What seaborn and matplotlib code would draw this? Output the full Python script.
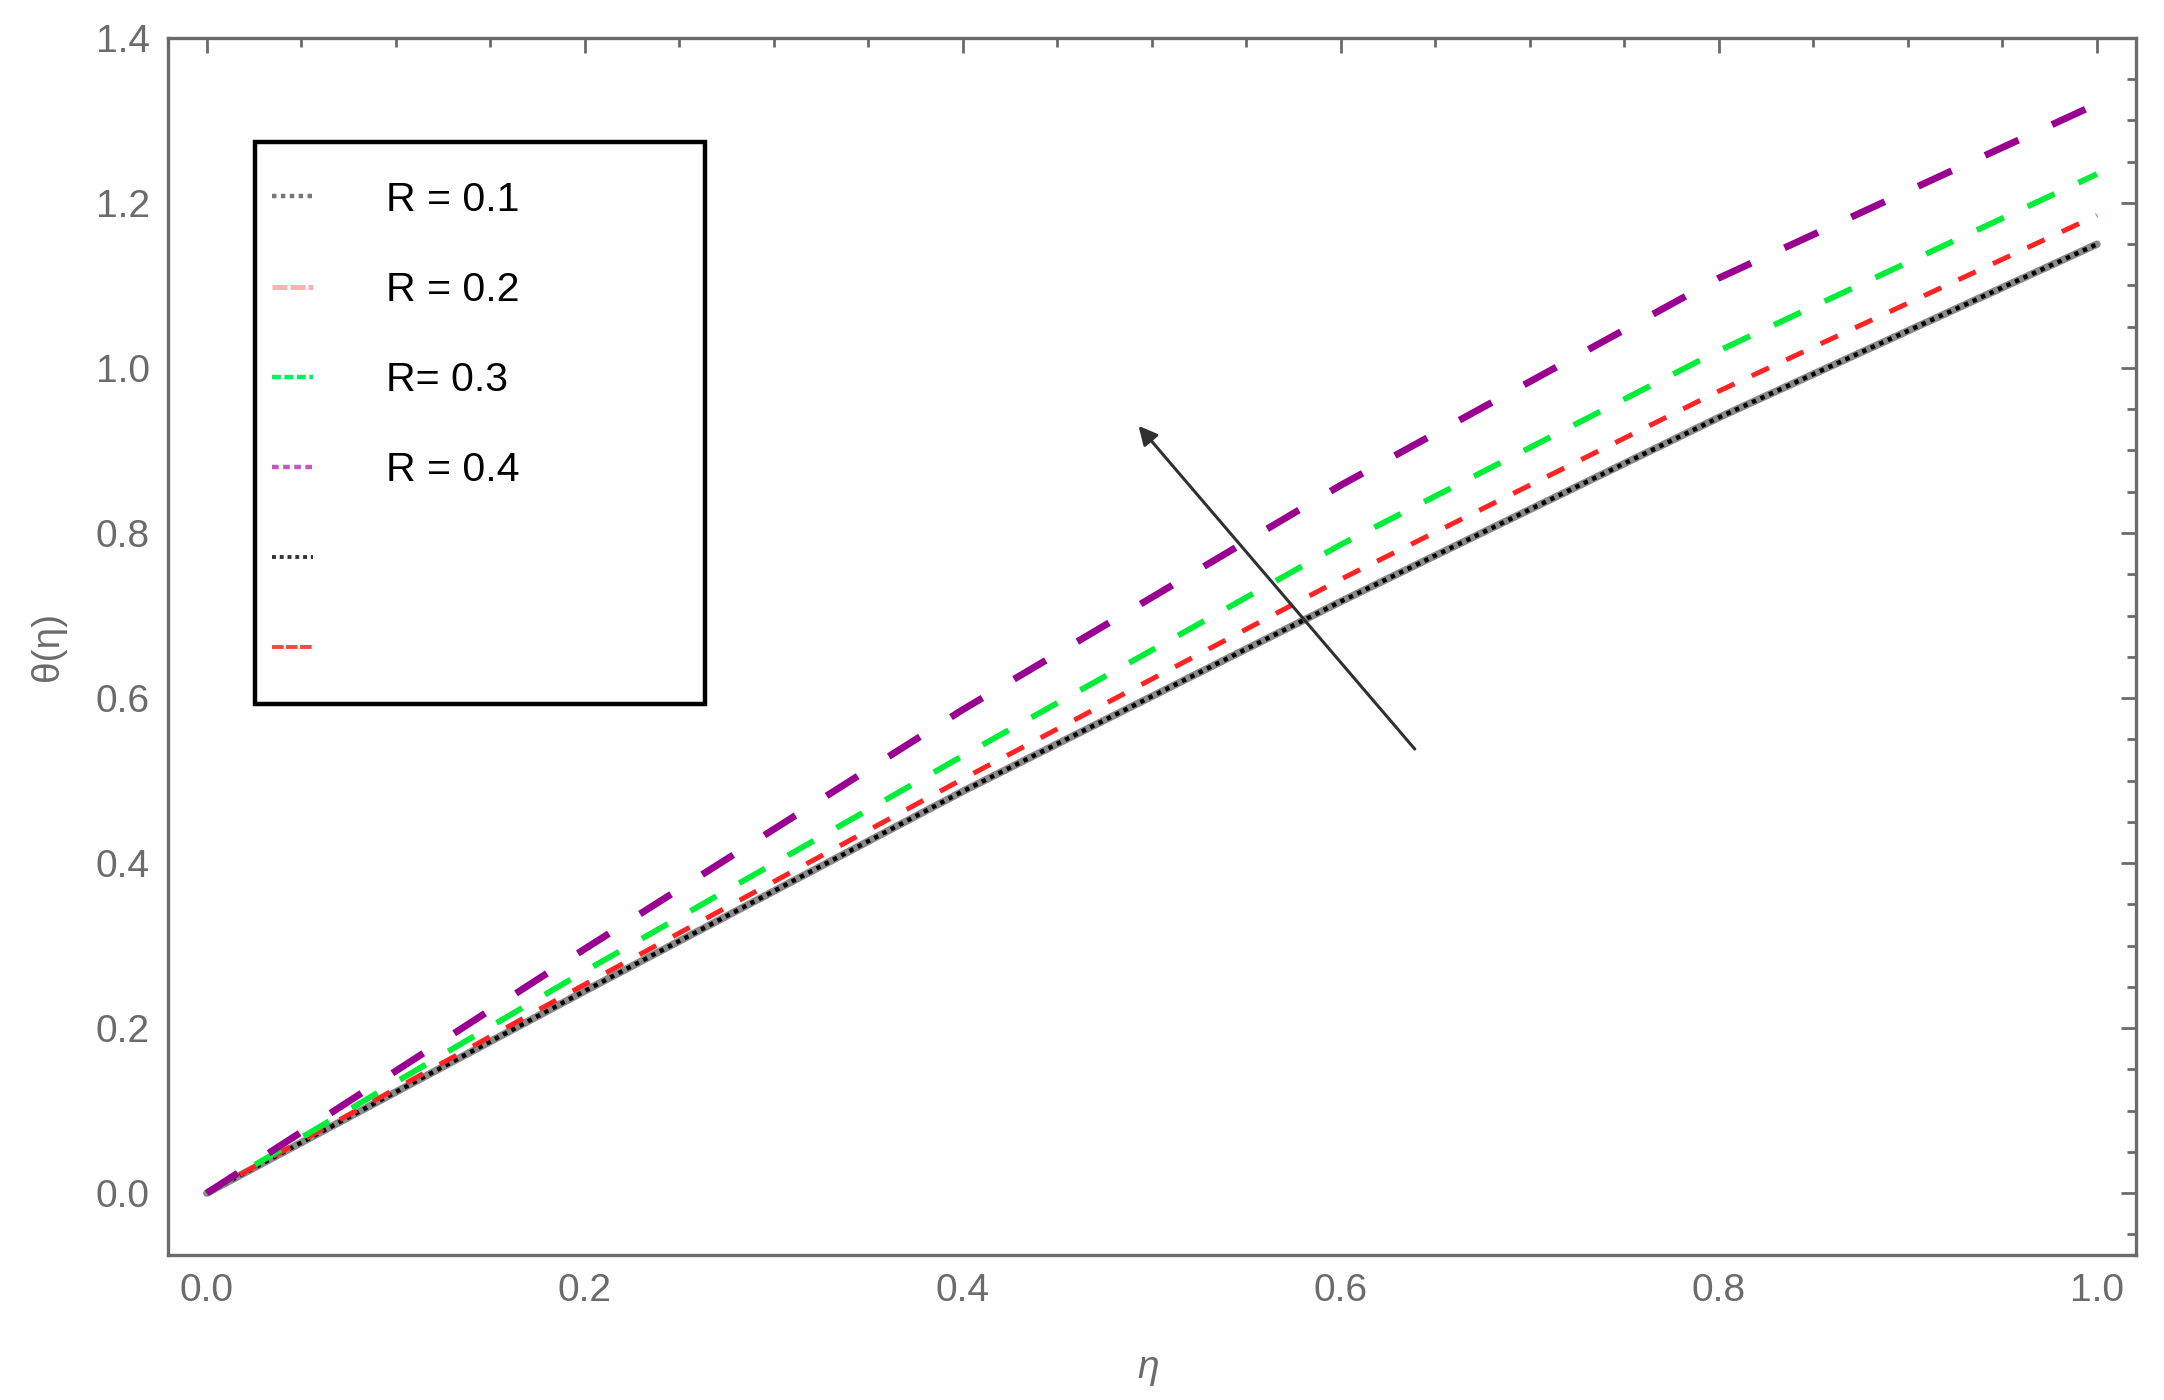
import matplotlib
matplotlib.use("Agg")
import matplotlib.pyplot as plt
import seaborn as sns
from matplotlib.lines import Line2D
from matplotlib.patches import Rectangle
from matplotlib.ticker import MultipleLocator

# values
eta = [0.0, 0.2, 0.4, 0.6, 0.8, 1.0]
theta_r1 = [0.0, 0.245, 0.487, 0.717, 0.940, 1.150]
theta_r2 = [0.0, 0.253, 0.502, 0.744, 0.972, 1.185]
theta_r3 = [0.0, 0.269, 0.530, 0.786, 1.021, 1.235]
theta_r4 = [0.0, 0.296, 0.586, 0.858, 1.109, 1.320]
legend_labels = ["R = 0.1", "R = 0.2", "R= 0.3", "R = 0.4", " ", " "]

sns.set_theme(style="white")
plt.rcParams['font.family'] = ['Liberation Sans', 'DejaVu Sans']

grey = '#6b6b6b'
fig = plt.figure(figsize=(10.82, 7.0), dpi=200)
ax = fig.add_axes([0.0776, 0.1036, 0.9094, 0.8693])

# R = 0.1 : black dotted line with a grey halo
sns.lineplot(x=eta, y=theta_r1, ax=ax, color='#8a8a8a', lw=2.7)
sns.lineplot(x=eta, y=theta_r1, ax=ax, color='black', lw=1.6, linestyle=(0, (1, 1.1)))
# R = 0.2 : red short dashes
sns.lineplot(x=eta, y=theta_r2, ax=ax, color='#ff2424', lw=1.8, linestyle=(0, (3.8, 3.8)))
# R = 0.3 : green dashes
sns.lineplot(x=eta, y=theta_r3, ax=ax, color='#00ee3a', lw=2.1, linestyle=(0, (5.1, 4.5)))
# R = 0.4 : purple long dashes
sns.lineplot(x=eta, y=theta_r4, ax=ax, color='#990090', lw=2.5, linestyle=(0, (5.3, 5.3)))

# arrow showing increasing R
ax.annotate("", xy=(0.491, 0.935), xytext=(0.641, 0.533),
            arrowprops=dict(arrowstyle='-|>', color='#303030', lw=1.1, mutation_scale=14))

ax.set_xlim(-0.0206, 1.0206)
ax.set_ylim(-0.075, 1.4)
ax.xaxis.set_major_locator(MultipleLocator(0.2))
ax.xaxis.set_minor_locator(MultipleLocator(0.05))
ax.yaxis.set_major_locator(MultipleLocator(0.2))
ax.yaxis.set_minor_locator(MultipleLocator(0.05))
ax.tick_params(which='both', direction='in', top=True, right=True, color=grey,
               width=1.0, labelcolor=grey, labelsize=14, pad=6.5)
ax.tick_params(which='major', length=5.5)
ax.tick_params(which='minor', length=3.3)
for sp in ax.spines.values():
    sp.set_color(grey)
    sp.set_linewidth(1.2)

ax.set_xlabel('η', color=grey, fontsize=14, fontstyle='italic')
ax.set_ylabel('θ(η)', color=grey, fontsize=14)
ax.xaxis.set_label_coords(0.498, -0.078)
ax.yaxis.set_label_coords(-0.052, 0.5)

# legend (Mathematica-style box)
ax.add_patch(Rectangle((0.0442, 0.4528), 0.2287, 0.4617, transform=ax.transAxes,
                       fill=False, edgecolor='black', lw=1.6, zorder=5))
handles = [
    Line2D([], [], color='#777777', lw=1.6, linestyle=(0, (1, 1))),
    Line2D([], [], color='#ffb0b0', lw=1.8, linestyle=(0, (3, 0.6))),
    Line2D([], [], color='#00f060', lw=1.6, linestyle=(0, (2, 0.8))),
    Line2D([], [], color='#cc55bb', lw=1.6, linestyle=(0, (1.5, 1))),
    Line2D([], [], color='#333333', lw=1.4, linestyle=(0, (1, 1))),
    Line2D([], [], color='#ff4444', lw=1.4, linestyle=(0, (3, 0.6))),
]
leg = ax.legend(handles, legend_labels, loc='upper left', bbox_to_anchor=(0.0528, 0.8827),
                frameon=False, borderpad=0, borderaxespad=0, fontsize=14.8,
                handlelength=1.0, handletextpad=1.78, labelspacing=1.27)
for t in leg.get_texts():
    t.set_color('black')

plt.savefig('out.png', dpi=200)
plt.close()
